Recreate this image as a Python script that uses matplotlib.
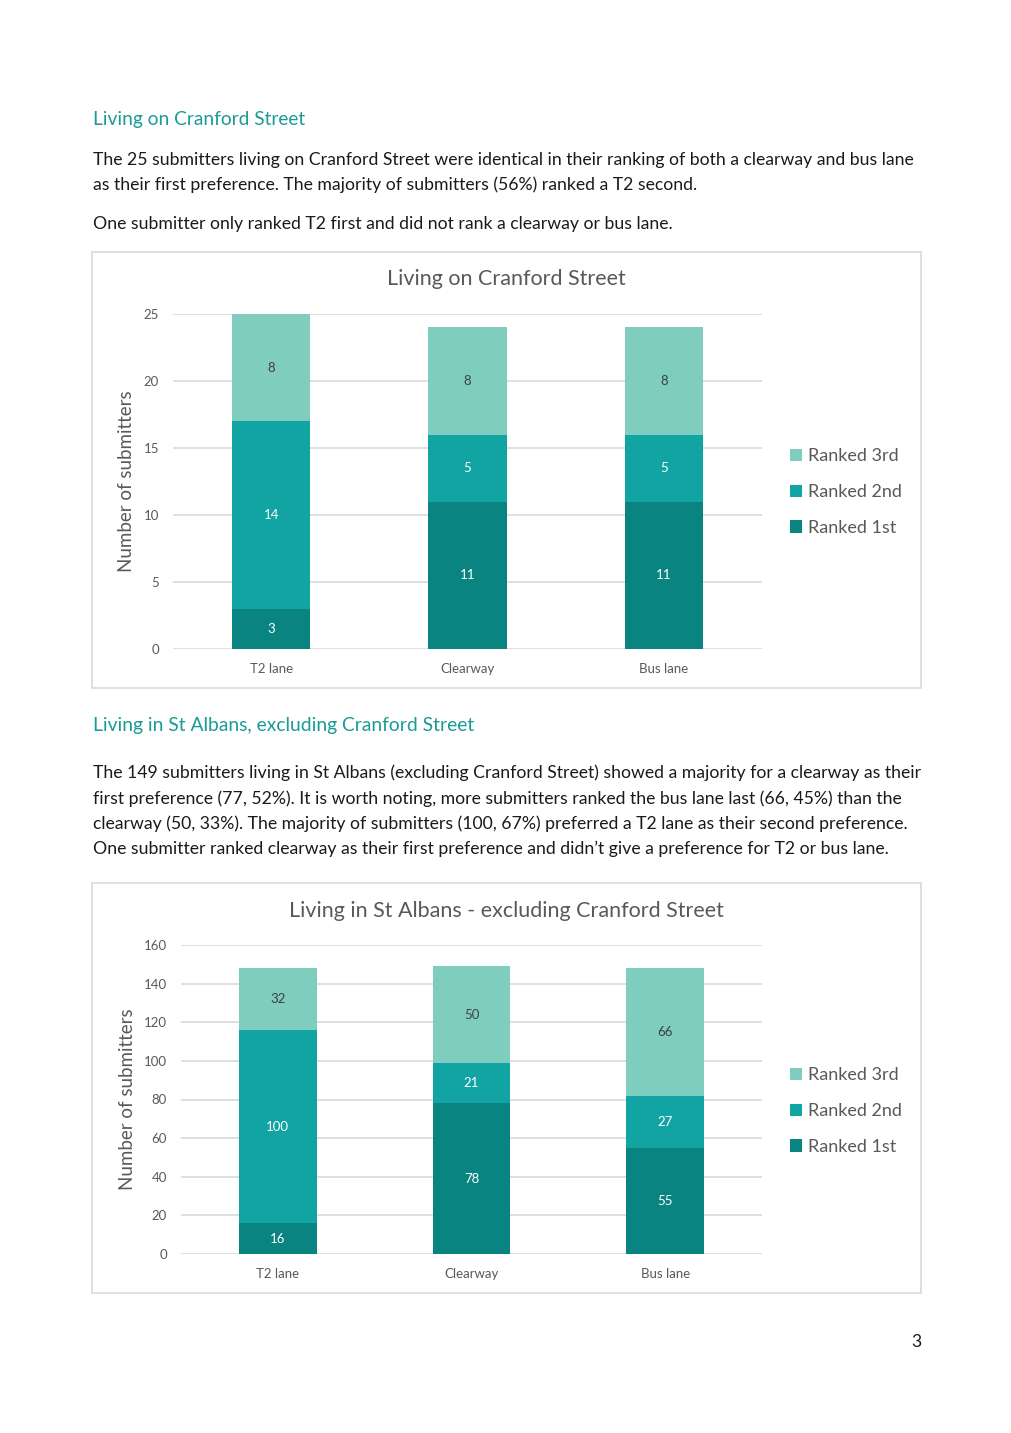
import matplotlib
matplotlib.use("Agg")
import matplotlib.pyplot as plt
from matplotlib.patches import Rectangle
import numpy as np

plt.rcParams['font.family'] = ['Lato', 'DejaVu Sans']

W, H = 1012, 1433

categories = ["T2 lane", "Clearway", "Bus lane"]
series_names = ["Ranked 1st", "Ranked 2nd", "Ranked 3rd"]
colors = ["#0A8481", "#12A4A3", "#7ECDBF"]
label_colors = ["white", "white", "#404040"]

cranford_1st = [3, 11, 11]
cranford_2nd = [14, 5, 5]
cranford_3rd = [8, 8, 8]
cranford_ticks = [0, 5, 10, 15, 20, 25]

stalbans_1st = [16, 78, 55]
stalbans_2nd = [100, 21, 27]
stalbans_3rd = [32, 50, 66]
stalbans_ticks = [0, 20, 40, 60, 80, 100, 120, 140, 160]

heading_color = "#1A9B95"
body_color = "#1A1A1A"
gray = "#595959"
grid = "#D9D9D9"

fig = plt.figure(figsize=(W / 100, H / 100), dpi=100)


def fx(x):
    return x / W


def fy(y):
    return 1 - y / H


def ftext(x, y, s, **kw):
    fig.text(fx(x), fy(y), s, **kw)


def chart(frame, plot, title, title_y, data, ticks, legend_y):
    # frame = (x0, y0, x1, y1) in px, plot = (x0, y0, x1, y1) in px
    x0, y0, x1, y1 = frame
    fig.patches.append(Rectangle((fx(x0), fy(y1)), fx(x1 - x0), (y1 - y0) / H,
                                 transform=fig.transFigure, fill=False,
                                 edgecolor=grid, linewidth=1.2))
    ftext((x0 + x1) / 2, title_y, title, ha="center", va="center",
          fontsize=15.5, color=gray)
    px0, py0, px1, py1 = plot
    ax = fig.add_axes([fx(px0), fy(py1), fx(px1 - px0), (py1 - py0) / H])
    x = np.arange(len(categories))
    bottom = np.zeros(len(categories))
    for vals, name, c, lc in zip(data, series_names, colors, label_colors):
        bars = ax.bar(x, vals, 0.4, bottom=bottom, color=c, label=name,
                      zorder=3)
        ax.bar_label(bars, labels=[str(v) for v in vals], label_type="center",
                     color=lc, fontsize=9.5)
        bottom += np.array(vals)
    ax.set_xlim(-0.5, len(categories) - 0.5)
    ax.set_ylim(0, ticks[-1])
    ax.set_yticks(ticks)
    ax.set_xticks(x)
    ax.set_xticklabels(categories)
    ax.tick_params(length=0, colors=gray, labelsize=9.5)
    ax.tick_params(axis="x", pad=10)
    ax.tick_params(axis="y", pad=10)
    for s in ax.spines.values():
        s.set_visible(False)
    ax.yaxis.grid(True, color=grid, linewidth=1.2, zorder=0)
    ax.set_axisbelow(True)
    ax.set_ylabel("Number of submitters", fontsize=13.5, color=gray,
                  labelpad=6)
    ax.set_facecolor("none")
    handles, labels = ax.get_legend_handles_labels()
    fig.legend(handles[::-1], labels[::-1], loc="center left",
               bbox_to_anchor=(fx(774), fy(legend_y)), frameon=False,
               fontsize=13, labelcolor=gray, handlelength=0.65,
               handleheight=0.65, handletextpad=0.35, labelspacing=1.1)
    return ax


# page text
ftext(93, 120, "Living on Cranford Street", fontsize=13.8, color=heading_color,
      va="center")
ftext(93, 160, "The 25 submitters living on Cranford Street were identical in their "
      "ranking of both a clearway and bus lane", fontsize=12.7, color=body_color,
      va="center")
ftext(93, 185, "as their first preference. The majority of submitters (56%) "
      "ranked a T2 second.", fontsize=12.7, color=body_color, va="center")
ftext(93, 224, "One submitter only ranked T2 first and did not rank a clearway "
      "or bus lane.", fontsize=12.7, color=body_color, va="center")

chart((92, 252, 921, 688), (173, 314, 762, 649), "Living on Cranford Street", 279,
      [cranford_1st, cranford_2nd, cranford_3rd], cranford_ticks, 492)

ftext(93, 726, "Living in St Albans, excluding Cranford Street", fontsize=13.9,
      color=heading_color, va="center")
para = [
    "The 149 submitters living in St Albans (excluding Cranford Street) showed "
    "a majority for a clearway as their",
    "first preference (77, 52%). It is worth noting, more submitters ranked the "
    "bus lane last (66, 45%) than the",
    "clearway (50, 33%). The majority of submitters (100, 67%) preferred a T2 "
    "lane as their second preference.",
    "One submitter ranked clearway as their first preference and didn\u2019t "
    "give a preference for T2 or bus lane.",
]
for i, line in enumerate(para):
    ftext(93, 773 + i * 25.3, line, fontsize=12.7, color=body_color, va="center")

chart((92, 883, 921, 1293), (181, 945, 762, 1254),
      "Living in St Albans - excluding Cranford Street", 911,
      [stalbans_1st, stalbans_2nd, stalbans_3rd], stalbans_ticks, 1111)

ftext(922, 1342, "3", fontsize=12.7, color=body_color, va="center", ha="right")

fig.savefig("out.png", dpi=100, facecolor="white")
